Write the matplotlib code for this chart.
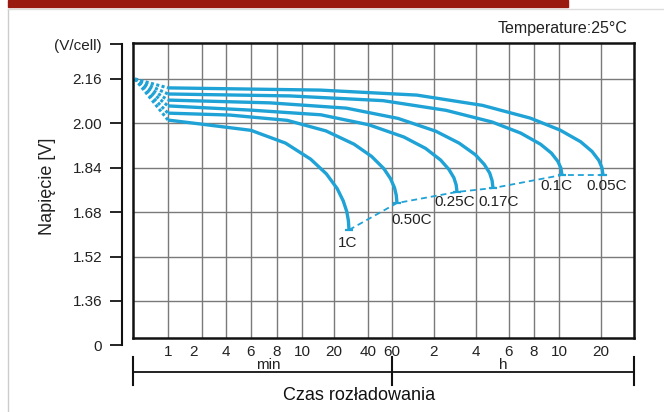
import numpy as np
import matplotlib
matplotlib.use("Agg")
import matplotlib.pyplot as plt
from matplotlib.transforms import blended_transform_factory, Affine2D
from matplotlib.patches import Rectangle
from matplotlib.lines import Line2D

plt.rcParams['font.family'] = ['Liberation Sans', 'DejaVu Sans']

# time axis is not log, it is a hand drawn scale: anchors minutes -> axis units
scale_min = [0, 1, 2, 4, 6, 8, 10, 20, 40, 60, 120, 240, 360, 480, 600, 1200, 1800]
scale_pos = [0, 35, 69, 93, 118, 144, 169, 201, 235, 259, 301, 343, 376, 401, 426, 468, 501]

tick_min = [1, 2, 4, 6, 8, 10, 20, 40, 60, 120, 240, 360, 480, 600, 1200]
tick_lab = ['1', '2', '4', '6', '8', '10', '20', '40', '60', '2', '4', '6', '8', '10', '20']

volt_grid = [1.36, 1.52, 1.68, 1.84, 2.00, 2.16]
volt_ticks = [1.20, 1.36, 1.52, 1.68, 1.84, 2.00, 2.16, 2.285]
volt_labels = ['0', '1.36', '1.52', '1.68', '1.84', '2.00', '2.16', '(V/cell)']

rates = ['1C', '0.50C', '0.25C', '0.17C', '0.1C', '0.05C']

# discharge curves, time in minutes, voltage per cell
t_1c = [1, 1.94, 6.0, 8.68, 12.72, 17.63, 21.88, 25.41, 27.53, 28.47, 28.82]
v_1c = [2.012, 1.998, 1.975, 1.929, 1.871, 1.818, 1.765, 1.721, 1.682, 1.649, 1.616]

t_050 = [1, 4.32, 8.81, 17.47, 31.82, 43.0, 53.2, 58.75, 63.6, 66.1, 67.1]
v_050 = [2.037, 2.030, 2.011, 1.973, 1.925, 1.881, 1.837, 1.801, 1.768, 1.741, 1.713]

t_025 = [1, 5.92, 15.88, 40.67, 76.9, 107.9, 138.9, 162.6, 176.9, 183.4, 185.7]
v_025 = [2.063, 2.048, 2.031, 1.995, 1.951, 1.910, 1.868, 1.834, 1.804, 1.778, 1.753]

t_017 = [1, 7.46, 27.24, 68.6, 124.9, 191.7, 238.3, 270.2, 289.8, 298.5, 301.8]
v_017 = [2.084, 2.074, 2.055, 2.018, 1.972, 1.929, 1.887, 1.852, 1.821, 1.794, 1.767]

t_01 = [1, 9.04, 52.5, 154.6, 298.5, 416.3, 511.2, 563.5, 594.7, 627.1, 642.9]
v_01 = [2.106, 2.099, 2.082, 2.047, 2.005, 1.965, 1.925, 1.893, 1.863, 1.839, 1.814]

t_005 = [1, 15.63, 95.4, 263.3, 462.3, 614.3, 908.6, 1071.4, 1168.6, 1216.4, 1236.4]
v_005 = [2.128, 2.120, 2.102, 2.065, 2.019, 1.976, 1.934, 1.899, 1.867, 1.841, 1.814]

t_start, v_start = 0.057, 2.16

curves = [(t_1c, v_1c), (t_050, v_050), (t_025, v_025),
          (t_017, v_017), (t_01, v_01), (t_005, v_005)]

blue = '#1fa2d6'
W, H = 664, 412


def fwd(t):
    return np.interp(t, scale_min, scale_pos)


def inv(p):
    return np.interp(p, scale_pos, scale_min)


fig = plt.figure(figsize=(W / 100, H / 100), dpi=100)
fig.patches.append(Rectangle((8 / W, 1 - 7 / H), 560 / W, 7 / H, transform=fig.transFigure,
                             color='#9a1a10', zorder=0))
fig.lines.append(Line2D([8 / W, 8 / W], [0, 1 - 9 / H], transform=fig.transFigure, color='#cccccc', lw=1))
fig.lines.append(Line2D([8 / W, 1], [1 - 9 / H, 1 - 9 / H], transform=fig.transFigure, color='#dddddd', lw=1))

ax = fig.add_axes([133 / W, (H - 338) / H, 501 / W, 295 / H])
ax.set_xscale('function', functions=(fwd, inv))
ax.set_xlim(0, 1800)
ax.set_ylim(1.2267, 2.2897)
ax.set_xticks(tick_min, tick_lab)
ax.set_xticks([], minor=True)
ax.set_yticks(volt_grid)
ax.tick_params(axis='x', length=0, pad=5, labelsize=11, labelcolor='#222222')
ax.tick_params(axis='y', left=False, labelleft=False)
ax.grid(True, color='#7a7a7a', lw=1)
ax.set_axisbelow(True)
for s in ax.spines.values():
    s.set_linewidth(1.8)
    s.set_color('#111111')
# the "2" label sits a bit left of its grid line in the original
lab2 = ax.get_xticklabels()[1]
lab2.set_transform(lab2.get_transform() + Affine2D().translate(-8, 0))

for t, v in curves:
    ax.plot([t_start, t[0]], [v_start, v[0]], color=blue, lw=2.2, ls=(0, (1.0, 0.8)))
    ax.plot(t, v, color=blue, lw=2.4, solid_joinstyle='round', solid_capstyle='butt')
    ax.plot(t[-1], v[-1], marker='_', ms=6, mew=1.6, color=blue)

end_t = [c[0][-1] for c in curves]
end_v = [c[1][-1] for c in curves]
ax.plot(end_t, end_v, color=blue, lw=1.3, ls=(0, (3.3, 2.2)))

label_off = [(-1, -13), (15, -17), (-2, -10), (6, -14), (-6, -11), (4, -11)]
for name, t, v, off in zip(rates, end_t, end_v, label_off):
    ax.annotate(name, (t, v), xytext=off, textcoords='offset pixels',
                ha='center', va='center', fontsize=11, color='#222222')

# min / h bracket under the time axis
tr = blended_transform_factory(ax.transData, ax.transAxes)
ax.plot([0, 1800], [-0.115, -0.115], transform=tr, clip_on=False, color='#111111', lw=1.3)
for t in [0, 60, 1800]:
    ax.plot([t, t], [-0.064, -0.159], transform=tr, clip_on=False, color='#111111', lw=1.5)
ax.text(0.271, -0.092, 'min', transform=ax.transAxes, ha='center', va='center', fontsize=11, color='#222222')
ax.text(0.7385, -0.092, 'h', transform=ax.transAxes, ha='center', va='center', fontsize=11, color='#222222')

# separate voltage axis left of the box
lax = fig.add_axes([122 / W, (H - 345.4) / H, 1 / W, 301.1 / H])
lax.patch.set_visible(False)
for k in ['right', 'top', 'bottom']:
    lax.spines[k].set_visible(False)
lax.spines['left'].set_linewidth(1.5)
lax.spines['left'].set_color('#111111')
lax.set_ylim(1.20, 2.285)
lax.set_xticks([])
lax.set_yticks(volt_ticks, volt_labels)
lax.tick_params(axis='y', length=8.6, width=1.2, pad=5.8, labelsize=11, labelcolor='#222222')

fig.text(48 / W, 1 - 186 / H, 'Napięcie [V]', rotation=90, ha='center', va='center', fontsize=13, color='#222222')
fig.text(359 / W, 1 - 395 / H, 'Czas rozładowania', ha='center', va='center', fontsize=13, color='#111111')
fig.text(628 / W, 1 - 28 / H, 'Temperature:25°C', ha='right', va='center', fontsize=11.5, color='#222222')

fig.savefig('out.png', dpi=100)
